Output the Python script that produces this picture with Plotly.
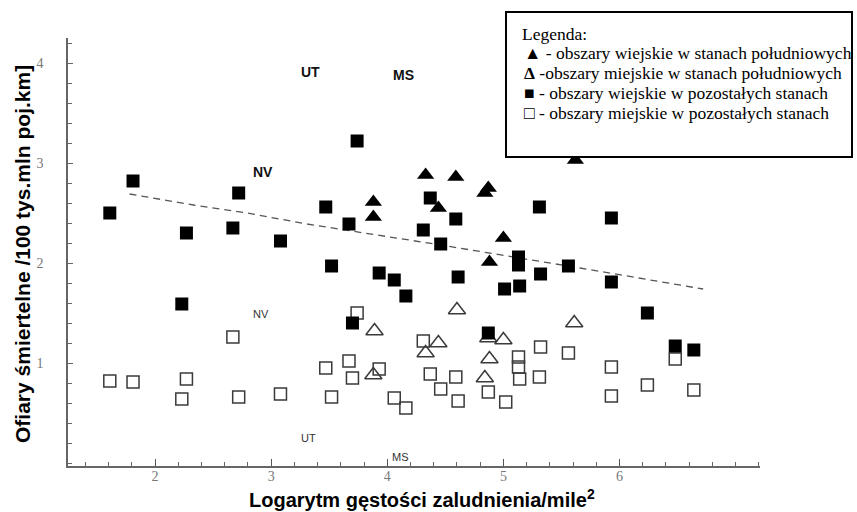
import plotly.graph_objects as go

# ---------------- data ----------------
# rural areas in southern states (filled triangles)
rural_south_x = [4.33, 4.59, 4.87, 4.84, 3.88, 3.88, 4.44, 5.00, 4.88, 5.62]
rural_south_y = [2.88, 2.86, 2.75, 2.70, 2.61, 2.46, 2.55, 2.25, 2.01, 3.03]

# urban areas in southern states (open triangles)
urban_south_x = [4.60, 3.89, 4.44, 4.33, 5.00, 4.87, 4.88, 3.88, 4.84, 5.61]
urban_south_y = [1.53, 1.32, 1.20, 1.10, 1.23, 1.25, 1.04, 0.88, 0.85, 1.40]

# rural areas in other states (filled squares)
rural_other_x = [1.61, 1.81, 2.27, 2.72, 2.67, 3.08, 2.23, 3.47, 3.74, 3.67, 3.52,
                 4.37, 4.59, 4.31, 4.46, 5.31, 3.93, 4.06, 4.16, 4.61, 5.13, 5.13,
                 5.32, 5.56, 5.01, 5.14, 5.93, 5.93, 6.24, 6.48, 6.64, 3.70, 4.87]
rural_other_y = [2.50, 2.82, 2.30, 2.70, 2.35, 2.22, 1.59, 2.56, 3.22, 2.39, 1.97,
                 2.65, 2.44, 2.33, 2.19, 2.56, 1.90, 1.83, 1.67, 1.86, 2.06, 1.98,
                 1.89, 1.97, 1.74, 1.77, 2.45, 1.81, 1.50, 1.17, 1.13, 1.40, 1.30]

# urban areas in other states (open squares)
urban_other_x = [1.61, 1.81, 2.23, 2.27, 2.67, 2.72, 3.08, 3.74, 3.47, 3.67, 3.70,
                 3.93, 3.52, 4.06, 4.16, 4.31, 4.37, 4.46, 4.59, 4.61, 4.87, 5.02,
                 5.13, 5.13, 5.14, 5.32, 5.31, 5.56, 5.93, 5.93, 6.24, 6.48, 6.64]
urban_other_y = [0.82, 0.81, 0.64, 0.84, 1.26, 0.66, 0.69, 1.50, 0.95, 1.02, 0.85,
                 0.94, 0.66, 0.65, 0.55, 1.22, 0.89, 0.74, 0.86, 0.62, 0.71, 0.61,
                 1.06, 0.96, 0.84, 1.16, 0.86, 1.10, 0.96, 0.67, 0.78, 1.04, 0.73]

# dashed trend line
trend_x = [1.78, 2.33, 2.79, 3.31, 4.46, 5.15, 5.66, 6.72]
trend_y = [2.69, 2.58, 2.50, 2.39, 2.18, 2.05, 1.95, 1.74]

# state labels
big_labels = ["UT", "MS", "NV"]
big_label_x = [3.34, 4.14, 2.93]
big_label_y = [3.91, 3.88, 2.91]
small_labels = ["NV", "UT", "MS"]
small_label_x = [2.91, 3.32, 4.11]
small_label_y = [1.49, 0.25, 0.06]

x_tick_vals = [2, 3, 4, 5, 6]
x_tick_text = ["2", "3", "4", "5", "6"]
y_tick_vals = [1, 2, 3, 4]
y_tick_text = ["1", "2", "3", "4"]

legend_title = "Legenda:"
legend_lines = [
    "▲ - obszary wiejskie w stanach południowych",
    "<b>Δ</b> -obszary miejskie w stanach południowych",
    "■ - obszary wiejskie w pozostałych stanach",
    "□ - obszary miejskie w pozostałych stanach",
]

x_title = "Logarytm gęstości zaludnienia/mile<sup>2</sup>"
y_title = "Ofiary śmiertelne /100 tys.mln poj.km]"

# ---------------- layout geometry ----------------
W, H = 857, 512
ML, MR, MT, MB = 68, 97, 38, 46
PW, PH = W - ML - MR, H - MT - MB


def px(xp):
    return (xp - ML) / PW


def py(yp):
    return (H - MB - yp) / PH


fig = go.Figure()

fig.add_trace(go.Scatter(
    x=trend_x, y=trend_y, mode="lines",
    line=dict(color="#555555", width=1.3, dash="7px,5px"),
    hoverinfo="skip"))

fig.add_trace(go.Scatter(
    x=urban_other_x, y=urban_other_y, mode="markers",
    marker=dict(symbol="square-open", size=12, color="#3a3a3a",
                line=dict(width=1.5))))

fig.add_trace(go.Scatter(
    x=urban_south_x, y=urban_south_y, mode="markers",
    marker=dict(symbol="triangle-up-open", size=15, color="#3a3a3a",
                line=dict(width=1.5))))

fig.add_trace(go.Scatter(
    x=rural_other_x, y=rural_other_y, mode="markers",
    marker=dict(symbol="square", size=13, color="#000000",
                line=dict(width=0))))

fig.add_trace(go.Scatter(
    x=rural_south_x, y=rural_south_y, mode="markers",
    marker=dict(symbol="triangle-up", size=15, color="#000000",
                line=dict(width=0))))

annotations = []
for t, xv, yv in zip(big_labels, big_label_x, big_label_y):
    annotations.append(dict(x=xv, y=yv, xref="x", yref="y", text="<b>%s</b>" % t,
                            showarrow=False,
                            font=dict(family="Liberation Sans", size=14, color="#111")))
for t, xv, yv in zip(small_labels, small_label_x, small_label_y):
    annotations.append(dict(x=xv, y=yv, xref="x", yref="y", text=t,
                            showarrow=False,
                            font=dict(family="Liberation Sans", size=11, color="#333")))

# axis titles
annotations.append(dict(x=px(422), y=py(499), xref="paper", yref="paper",
                        text="<b>%s</b>" % x_title, showarrow=False,
                        xanchor="center", yanchor="middle",
                        font=dict(family="Liberation Sans", size=20, color="#000")))
annotations.append(dict(x=px(22), y=py(254), xref="paper", yref="paper",
                        text="<b>%s</b>" % y_title, showarrow=False, textangle=-90,
                        xanchor="center", yanchor="middle",
                        font=dict(family="Liberation Sans", size=21, color="#000")))

# legend text
annotations.append(dict(x=px(520), y=py(34), xref="paper", yref="paper",
                        text=legend_title, showarrow=False,
                        xanchor="left", yanchor="middle",
                        font=dict(family="Liberation Serif", size=17.5, color="#000")))
for i, line in enumerate(legend_lines):
    annotations.append(dict(x=px(522), y=py(53 + 20 * i), xref="paper", yref="paper",
                            text=line, showarrow=False,
                            xanchor="left", yanchor="middle",
                            font=dict(family="Liberation Serif", size=17.5, color="#000")))

shapes = [dict(type="rect", xref="paper", yref="paper",
               x0=px(506), x1=px(852), y0=py(12), y1=py(157),
               line=dict(color="#000", width=2), fillcolor="white", layer="above")]

tickfont = dict(family="Liberation Serif", size=14, color="#777777")

fig.update_layout(
    width=W, height=H,
    margin=dict(l=ML, r=MR, t=MT, b=MB),
    paper_bgcolor="white", plot_bgcolor="white",
    showlegend=False,
    xaxis=dict(range=[1.25, 7.21], showline=True, linecolor="#666", linewidth=1.5,
               showgrid=False, zeroline=False,
               tickmode="array", tickvals=x_tick_vals, ticktext=x_tick_text,
               ticks="inside", ticklen=7, tickwidth=1.2, tickcolor="#555",
               tickfont=tickfont, ticklabelstandoff=-4,
               minor=dict(tickmode="linear", tick0=0, dtick=0.2, ticks="inside",
                          ticklen=4, tickwidth=1, tickcolor="#666", showgrid=False)),
    yaxis=dict(range=[-0.03, 4.25], showline=True, linecolor="#666", linewidth=1.5,
               showgrid=False, zeroline=False,
               tickmode="array", tickvals=y_tick_vals, ticktext=y_tick_text,
               ticks="inside", ticklen=5, tickwidth=1, tickcolor="#666",
               tickfont=tickfont, ticklabelstandoff=20,
               minor=dict(tickmode="linear", tick0=0, dtick=0.2, ticks="inside",
                          ticklen=4, tickwidth=1, tickcolor="#666", showgrid=False)),
    annotations=annotations,
    shapes=shapes,
)

# remove the browser's default page margin so the figure sits at the window origin
fig.write_html("out.html",
               config={"displayModeBar": False},
               post_script="document.body.style.margin='0';"
                           "document.body.style.overflow='hidden';")
